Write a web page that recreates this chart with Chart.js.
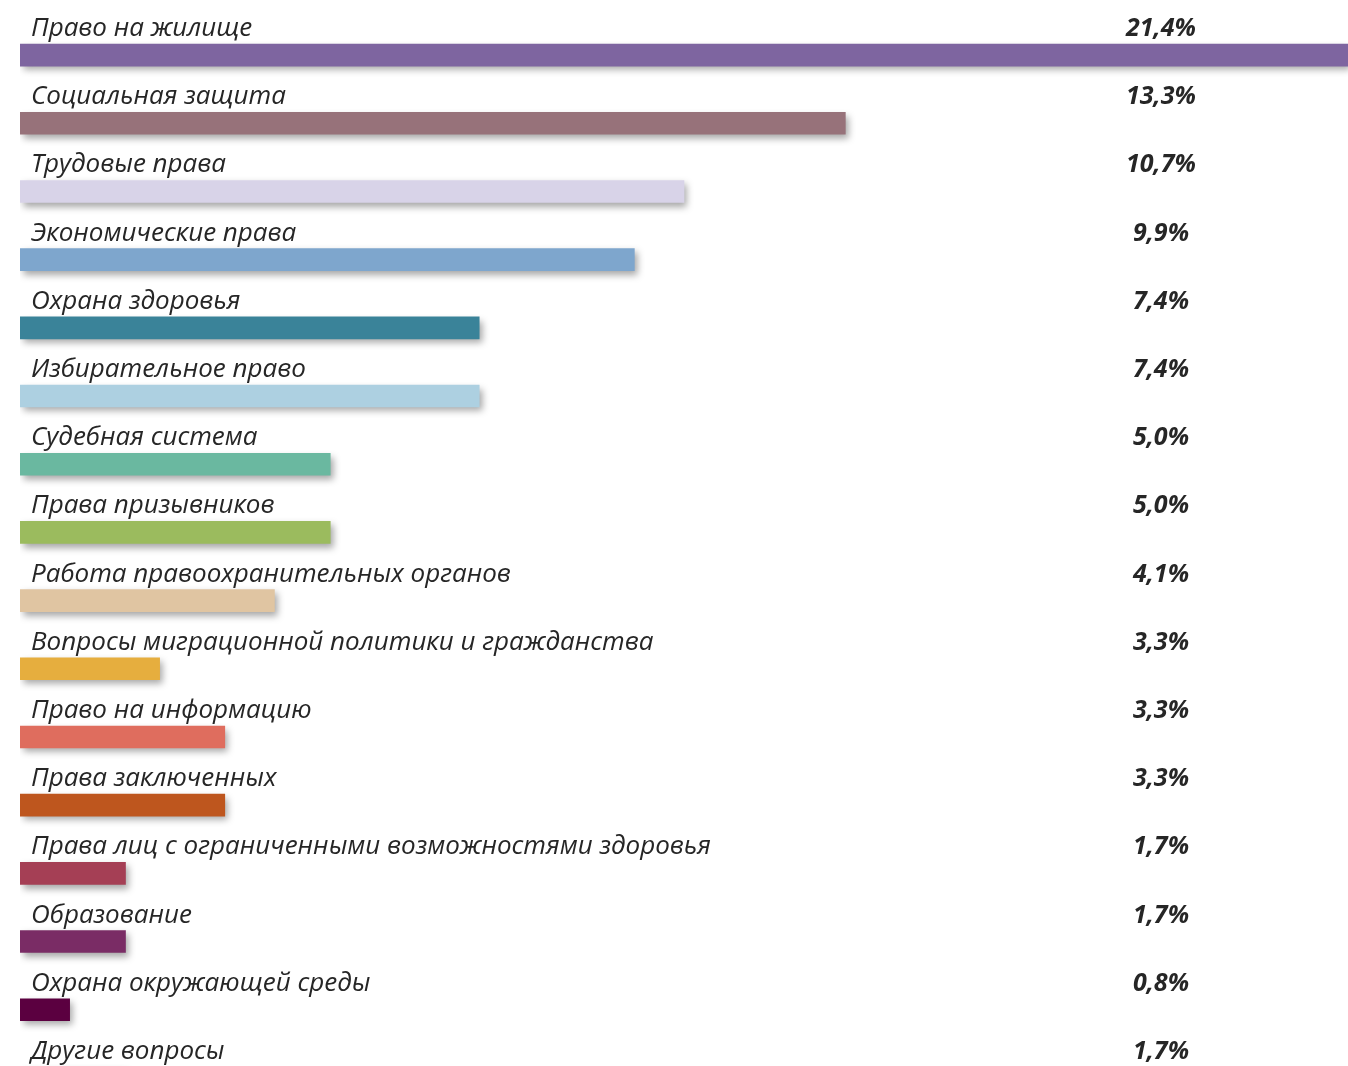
<!DOCTYPE html>
<html>
<head>
<meta charset="utf-8">
<script src="https://cdn.jsdelivr.net/npm/chart.js@4.4.1/dist/chart.umd.min.js"></script>
<style>
  html, body { margin: 0; padding: 0; background: #fff; overflow: hidden; }
  #wrap { width: 1348px; height: 1066px; overflow: hidden; position: relative; }
  #box { width: 1348px; height: 1120px; position: absolute; left: 0; top: 0; }
</style>
</head>
<body>
<div id="wrap"><div id="box"><canvas id="chart"></canvas></div></div>
<script>
const categories = [
  'Право на жилище',
  'Социальная защита',
  'Трудовые права',
  'Экономические права',
  'Охрана здоровья',
  'Избирательное право',
  'Судебная система',
  'Права призывников',
  'Работа правоохранительных органов',
  'Вопросы миграционной политики и гражданства',
  'Право на информацию',
  'Права заключенных',
  'Права лиц с ограниченными возможностями здоровья',
  'Образование',
  'Охрана окружающей среды',
  'Другие вопросы'
];
// bar lengths as drawn in the picture
const barValues = [21.4, 13.3, 10.7, 9.9, 7.4, 7.4, 5.0, 5.0, 4.1, 2.25, 3.3, 3.3, 1.7, 1.7, 0.8, 1.7];
// printed labels
const valueLabels = ['21,4%', '13,3%', '10,7%', '9,9%', '7,4%', '7,4%', '5,0%', '5,0%', '4,1%', '3,3%', '3,3%', '3,3%', '1,7%', '1,7%', '0,8%', '1,7%'];
const barColors = ['#7e65a0', '#97727a', '#d8d3e8', '#7ea6cd', '#3a8399', '#add0e1', '#6ab8a0', '#9bbb5e',
  '#e0c5a2', '#e6ae3e', '#df6d5e', '#be561e', '#a53f55', '#7a2c65', '#5b0040', '#8064a2'];

// drop shadow under the bars
const shadowPlugin = {
  id: 'shadow',
  beforeDatasetsDraw(chart) {
    const c = chart.ctx;
    c.save();
    c.shadowColor = 'rgba(0,0,0,0.35)';
    c.shadowBlur = 7;
    c.shadowOffsetX = 3;
    c.shadowOffsetY = 4;
  },
  afterDatasetsDraw(chart) { chart.ctx.restore(); }
};

// category name above each bar, value on the right
const textPlugin = {
  id: 'texts',
  afterDraw(chart) {
    const c = chart.ctx;
    const meta = chart.getDatasetMeta(0);
    c.save();
    c.fillStyle = '#262626';
    c.textBaseline = 'alphabetic';
    meta.data.forEach((bar, i) => {
      const top = bar.y - bar.height / 2;
      c.font = 'italic 400 26px "Open Sans"';
      c.textAlign = 'left';
      c.fillText(categories[i], 31, top - 8);
      c.font = 'italic 700 25px "Open Sans"';
      c.textAlign = 'center';
      c.fillText(valueLabels[i], 1161, top - 8);
    });
    c.restore();
  }
};

new Chart(document.getElementById('chart'), {
  type: 'bar',
  data: {
    labels: categories,
    datasets: [{ data: barValues, backgroundColor: barColors, barThickness: 22, borderWidth: 0 }]
  },
  options: {
    indexAxis: 'y',
    responsive: true,
    maintainAspectRatio: false,
    animation: false,
    layout: { padding: { left: 20, right: 0, top: 21, bottom: 8 } },
    plugins: { legend: { display: false }, tooltip: { enabled: false } },
    scales: {
      x: { display: false, min: 0, max: 21.4 },
      y: { display: false }
    }
  },
  plugins: [shadowPlugin, textPlugin]
});
</script>
</body>
</html>
